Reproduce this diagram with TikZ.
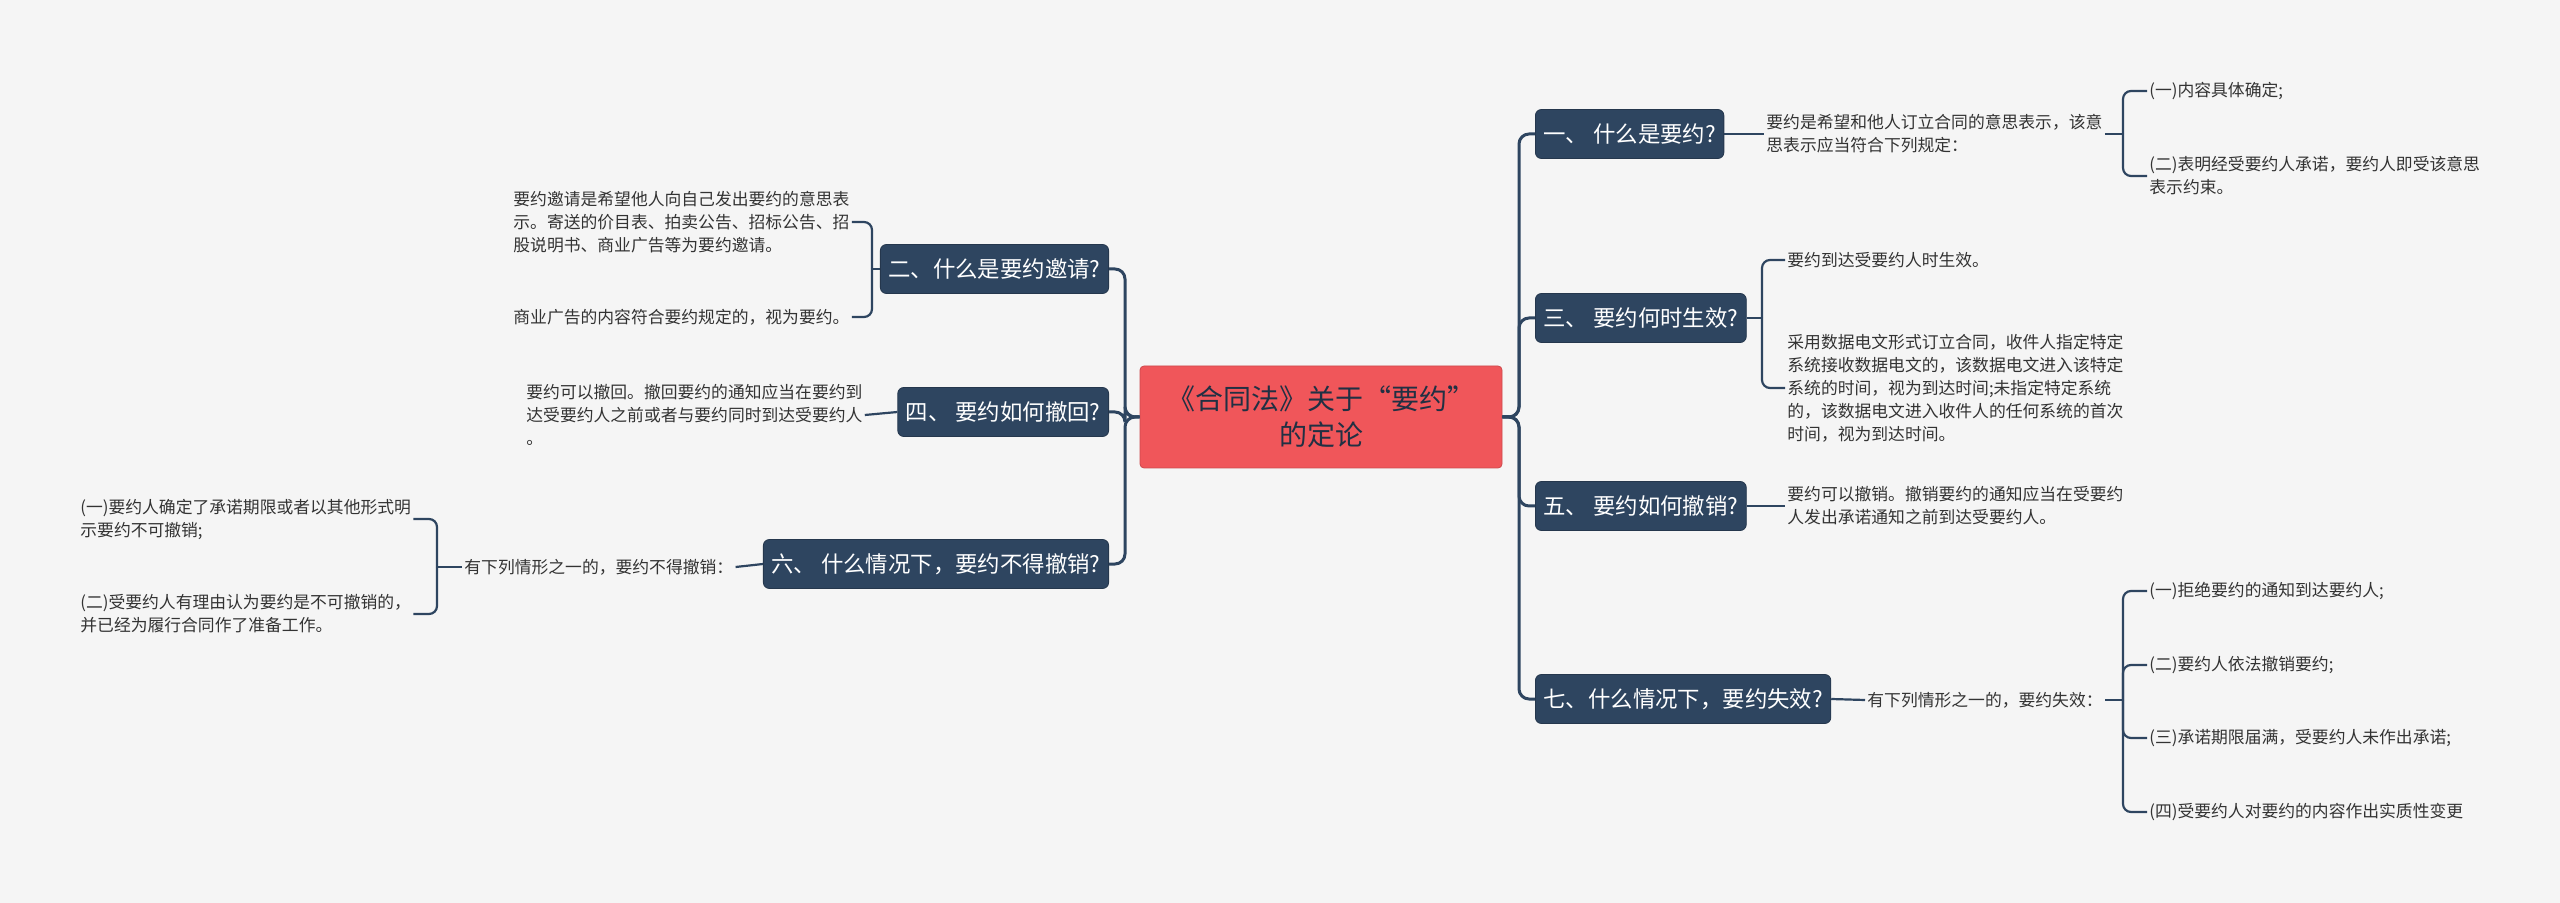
\documentclass[tikz,border=0pt]{standalone}
\usepackage{fontspec}
\setmainfont{Noto Sans CJK SC}
\usetikzlibrary{positioning}
\definecolor{bgcol}{HTML}{F5F5F5}
\definecolor{navy}{HTML}{2E4560}
\definecolor{rootred}{HTML}{F0565A}
\definecolor{txtcol}{HTML}{333333}

\begin{document}
\begin{tikzpicture}[
    x=0.5pt, y=-0.5pt,
    root/.style={draw=rootred!85!black, fill=rootred, rounded corners=2pt, text=navy!70!black,
        font=\fontsize{14pt}{18pt}\selectfont, align=center, minimum width=181pt, minimum height=51pt},
    branch/.style={fill=navy, draw=navy!80!black, rounded corners=3pt, text=white,
        font=\fontsize{11.2pt}{14pt}\selectfont, minimum height=24.5pt, inner xsep=4pt},
    leaf/.style={text=txtcol, font=\fontsize{8.4pt}{11.5pt}\selectfont, align=left, inner sep=1pt},
    link/.style={draw=navy, line width=1.5pt, rounded corners=5pt},
    sublink/.style={draw=navy, line width=1.1pt, rounded corners=4pt}]
\fill[bgcol] (0,0) rectangle (2560,903);
\useasboundingbox (0,0) rectangle (2560,903);

\node[root] (law) at (1321,417) {《合同法》关于“要约”\\的定论};

\node[branch, anchor=west] (b1) at (1535,134) {一、 什么是要约?};
\node[branch, anchor=west] (b3) at (1535,318) {三、 要约何时生效?};
\node[branch, anchor=west] (b5) at (1535,506) {五、 要约如何撤销?};
\node[branch, anchor=west] (b7) at (1535,699) {七、什么情况下，要约失效?};
\node[branch, anchor=east] (b2) at (1109,269) {二、什么是要约邀请?};
\node[branch, anchor=east] (b4) at (1109,412) {四、 要约如何撤回?};
\node[branch, anchor=east] (b6) at (1109,564) {六、 什么情况下，要约不得撤销?};

\coordinate (rs) at (1519,417);
\coordinate (ls) at (1125,417);
\foreach \b in {b1,b3,b5,b7}
    \draw[link] (law.east) -- (rs) |- (\b.west);
\foreach \b in {b2,b4,b6}
    \draw[link] (law.west) -- (ls) |- (\b.east);

\node[leaf, anchor=west] (t1) at (1764,134) {要约是希望和他人订立合同的意思表示，该意\\思表示应当符合下列规定：};
\node[leaf, anchor=west] (t1a) at (2147,91) {(一)内容具体确定;};
\node[leaf, anchor=west] (t1b) at (2147,176) {(二)表明经受要约人承诺，要约人即受该意思\\表示约束。};
\draw[sublink] (b1.east) -- (t1.west);
\coordinate (k1) at (2123,134);
\draw[sublink] (t1.east) -- (k1);
\foreach \c in {t1a,t1b}
    \draw[sublink] (k1) |- (\c.west);

\coordinate (k3) at (1762,318);
\node[leaf, anchor=west] (t3a) at (1785,260) {要约到达受要约人时生效。};
\node[leaf, anchor=west] (t3b) at (1785,388) {采用数据电文形式订立合同，收件人指定特定\\系统接收数据电文的，该数据电文进入该特定\\系统的时间，视为到达时间;未指定特定系统\\的，该数据电文进入收件人的任何系统的首次\\时间，视为到达时间。};
\draw[sublink] (b3.east) -- (k3);
\foreach \c in {t3a,t3b}
    \draw[sublink] (k3) |- (\c.west);

\node[leaf, anchor=west] (t5) at (1785,506) {要约可以撤销。撤销要约的通知应当在受要约\\人发出承诺通知之前到达受要约人。};
\draw[sublink] (b5.east) -- (t5.west);

\node[leaf, anchor=west] (t7) at (1865,700) {有下列情形之一的，要约失效：};
\draw[sublink] (b7.east) -- (t7.west);
\coordinate (k7) at (2123,700);
\draw[sublink] (t7.east) -- (k7);
\node[leaf, anchor=west] (t7a) at (2147,591) {(一)拒绝要约的通知到达要约人;};
\node[leaf, anchor=west] (t7b) at (2147,665) {(二)要约人依法撤销要约;};
\node[leaf, anchor=west] (t7c) at (2147,738) {(三)承诺期限届满，受要约人未作出承诺;};
\node[leaf, anchor=west] (t7d) at (2147,812) {(四)受要约人对要约的内容作出实质性变更};
\foreach \c in {t7a,t7b,t7c,t7d}
    \draw[sublink] (k7) |- (\c.west);

\coordinate (k2) at (872,269);
\node[leaf, anchor=west] (t2a) at (511,222) {要约邀请是希望他人向自己发出要约的意思表\\示。寄送的价目表、拍卖公告、招标公告、招\\股说明书、商业广告等为要约邀请。};
\node[leaf, anchor=west] (t2b) at (511,317) {商业广告的内容符合要约规定的，视为要约。};
\draw[sublink] (b2.west) -- (k2);
\foreach \c in {t2a,t2b}
    \draw[sublink] (k2) |- (\c.east);

\node[leaf, anchor=west] (t4) at (524,415) {要约可以撤回。撤回要约的通知应当在要约到\\达受要约人之前或者与要约同时到达受要约人\\。};
\draw[sublink] (b4.west) -- (t4.east);

\node[leaf, anchor=west] (t6) at (462,567) {有下列情形之一的，要约不得撤销：};
\draw[sublink] (b6.west) -- (t6.east);
\coordinate (k6) at (437,567);
\draw[sublink] (t6.west) -- (k6);
\node[leaf, anchor=west] (t6a) at (78,519) {(一)要约人确定了承诺期限或者以其他形式明\\示要约不可撤销;};
\node[leaf, anchor=west] (t6b) at (78,614) {(二)受要约人有理由认为要约是不可撤销的，\\并已经为履行合同作了准备工作。};
\foreach \c in {t6a,t6b}
    \draw[sublink] (k6) |- (\c.east);
\end{tikzpicture}
\end{document}
